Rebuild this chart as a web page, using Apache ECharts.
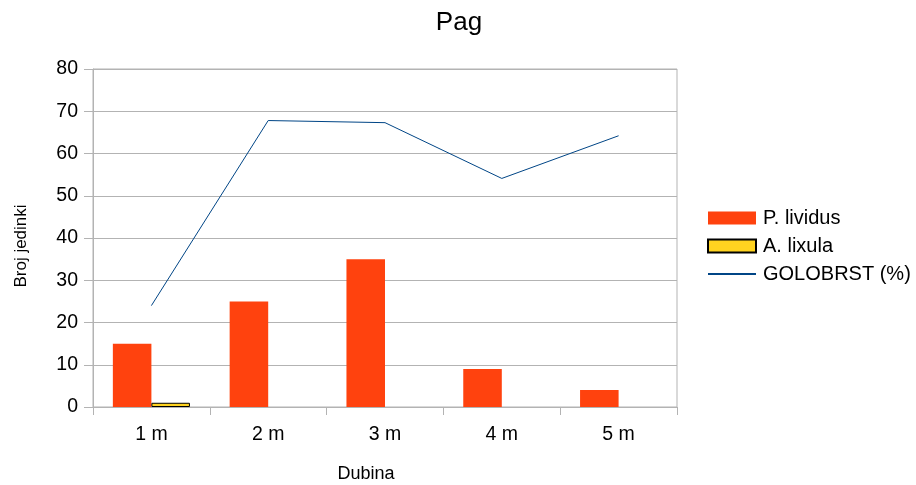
<!DOCTYPE html>
<html><head><meta charset="utf-8">
<script src="https://cdn.jsdelivr.net/npm/echarts@6/dist/echarts.min.js"></script>
<style>html,body{margin:0;padding:0;background:#fff}#c{width:916px;height:485px}</style>
</head><body><div id="c"></div>
<script>
const categories = ['1 m', '2 m', '3 m', '4 m', '5 m'];
const pLividus = [15, 25, 35, 9, 4];
const aLixula = [1, 0, 0, 0, 0];
const golobrst = [24, 67.8, 67.3, 54.1, 64.2];
const yTicks = { min: 0, max: 80, interval: 10 };

const font = '"Liberation Sans", Arial, sans-serif';
const chart = echarts.init(document.getElementById('c'), null, { renderer: 'canvas' });
chart.setOption({
  animation: false,
  backgroundColor: '#fff',
  title: {
    text: 'Pag', left: 454, top: 5, textAlign: 'center',
    textStyle: { fontFamily: font, fontSize: 26, fontWeight: 'normal', color: '#000' }
  },
  legend: {
    orient: 'vertical', left: 702, top: 203, itemGap: 8,
    itemWidth: 48, itemHeight: 13,
    textStyle: { fontFamily: font, fontSize: 20, color: '#000', padding: [0, 0, 0, 2] },
    data: [
      { name: 'P. lividus', icon: 'rect' },
      { name: 'A. lixula', icon: 'rect' },
      { name: 'GOLOBRST (%)', itemStyle: { opacity: 0 } }
    ]
  },
  grid: {
    left: 93, top: 69, width: 584, height: 338,
    outerBoundsMode: 'none', containLabel: false,
    show: true, borderColor: '#b3b3b3', borderWidth: 1, backgroundColor: 'transparent'
  },
  xAxis: {
    type: 'category', data: categories,
    name: 'Dubina', nameLocation: 'middle', nameGap: 58,
    nameTextStyle: { fontFamily: font, fontSize: 18, color: '#000', padding: [0, 38, 0, 0] },
    axisLine: { lineStyle: { color: '#b3b3b3' } },
    axisTick: { show: true, length: 8, lineStyle: { color: '#b3b3b3' } },
    axisLabel: { fontFamily: font, fontSize: 19.5, color: '#000', margin: 18 }
  },
  yAxis: {
    type: 'value', min: yTicks.min, max: yTicks.max, interval: yTicks.interval,
    name: 'Broj jedinki', nameLocation: 'middle', nameGap: 63, nameRotate: 90,
    nameTextStyle: { fontFamily: font, fontSize: 17, color: '#000', padding: [0, 16, 0, 0] },
    axisLine: { show: true, lineStyle: { color: '#b3b3b3' } },
    axisTick: { show: true, length: 9, lineStyle: { color: '#b3b3b3' } },
    axisLabel: { fontFamily: font, fontSize: 19.5, color: '#000', margin: 15 },
    splitLine: { lineStyle: { color: '#b3b3b3' } }
  },
  series: [
    {
      name: 'P. lividus', type: 'bar', data: pLividus,
      barGap: '0%', barCategoryGap: '34%',
      itemStyle: { color: '#ff420e' }
    },
    {
      name: 'A. lixula', type: 'bar',
      data: aLixula.map(v => (v === 0 ? null : v)),
      itemStyle: { color: '#ffd320', borderColor: '#000', borderWidth: 1 }
    },
    {
      name: 'GOLOBRST (%)', type: 'line', data: golobrst,
      symbol: 'none', showSymbol: false,
      lineStyle: { color: '#004586', width: 1 },
      itemStyle: { color: '#004586' }
    }
  ]
});
</script></body></html>
